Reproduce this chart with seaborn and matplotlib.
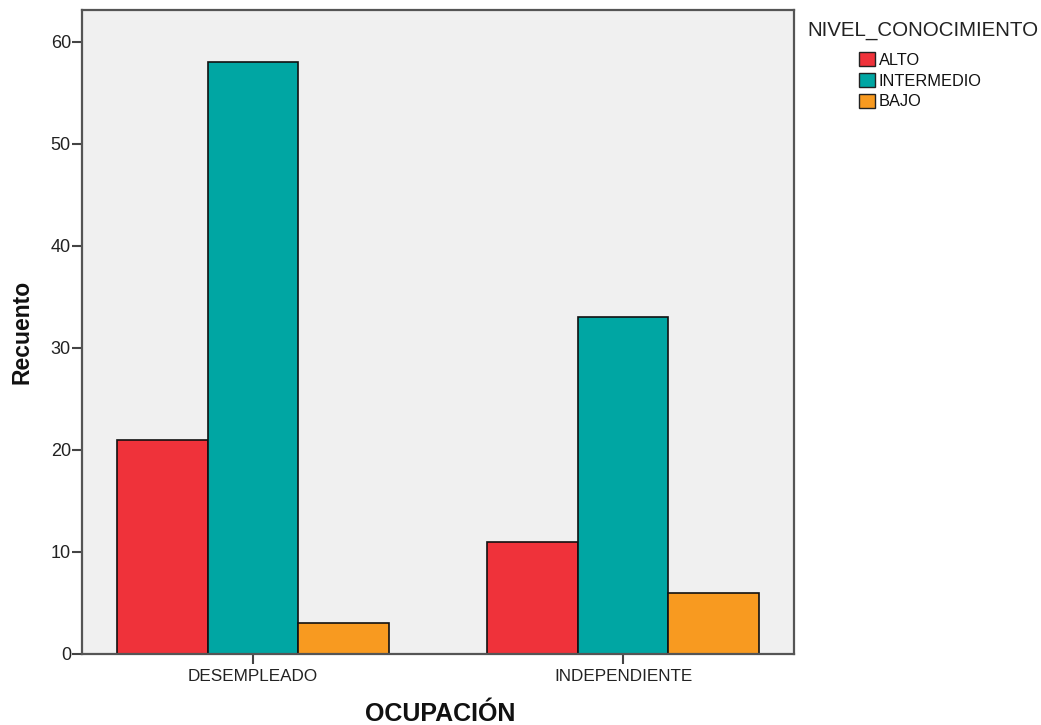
import matplotlib
matplotlib.use("Agg")
import matplotlib.pyplot as plt
import seaborn as sns
import pandas as pd
from matplotlib.patches import Patch

ocupacion = ["DESEMPLEADO", "INDEPENDIENTE"]
niveles = ["ALTO", "INTERMEDIO", "BAJO"]
alto = [21, 11]
intermedio = [58, 33]
bajo = [3, 6]
colores = ["#EF323A", "#00A6A3", "#F89A20"]

rows = []
for i, oc in enumerate(ocupacion):
    for nv, vals in zip(niveles, [alto, intermedio, bajo]):
        rows.append({"OCUPACIÓN": oc, "NIVEL_CONOCIMIENTO": nv, "Recuento": vals[i]})
df = pd.DataFrame(rows)

sns.set_style("white")
plt.rcParams["font.family"] = ["Liberation Sans", "DejaVu Sans"]

fig = plt.figure(figsize=(10.41, 7.25), dpi=100)
ax = fig.add_axes([82/1041, 71/725, (794-82)/1041, (654-10)/725])
ax.set_facecolor("#F0F0F0")

sns.barplot(data=df, x="OCUPACIÓN", y="Recuento", hue="NIVEL_CONOCIMIENTO",
            order=ocupacion, hue_order=niveles, palette=colores, saturation=1,
            width=0.733, edgecolor="#111111", linewidth=1.2, ax=ax, legend=False)

ax.set_xlim(-0.462, 1.462)
ax.set_ylim(0, 63.1)
ax.set_yticks([0, 10, 20, 30, 40, 50, 60])
ax.tick_params(axis="both", which="major", direction="out", length=7, width=1.5,
               color="#444444", labelsize=13, labelcolor="#222222", pad=1,
               bottom=True, left=True)
ax.tick_params(axis="x", labelsize=12.3, pad=4)
for s in ax.spines.values():
    s.set_color("#555555")
    s.set_linewidth(1.6)

ax.set_xlabel("")
ax.set_ylabel("")
fig.text(440/1041, 1 - 714/725, "OCUPACIÓN", fontsize=18, fontweight="bold",
         ha="center", va="center", color="#111111")
fig.text(22/1041, 1 - 332/725, "Recuento", fontsize=16.5, fontweight="bold",
         ha="center", va="center", rotation=90, color="#111111")

fig.text(923/1041, 1 - 31/725, "NIVEL_CONOCIMIENTO", fontsize=14.8,
         ha="center", va="center", color="#222222")
handles = [Patch(facecolor=c, edgecolor="#222222", linewidth=1.0) for c in colores]
leg = fig.legend(handles, niveles, loc="upper left",
                 bbox_to_anchor=(856/1041, 1 - 49/725), frameon=False,
                 fontsize=11.8, handlelength=0.95, handleheight=0.95,
                 handletextpad=0.25, labelspacing=0.3, borderpad=0.2,
                 borderaxespad=0)
for t in leg.get_texts():
    t.set_color("#111111")

fig.savefig("out.png", dpi=100)
